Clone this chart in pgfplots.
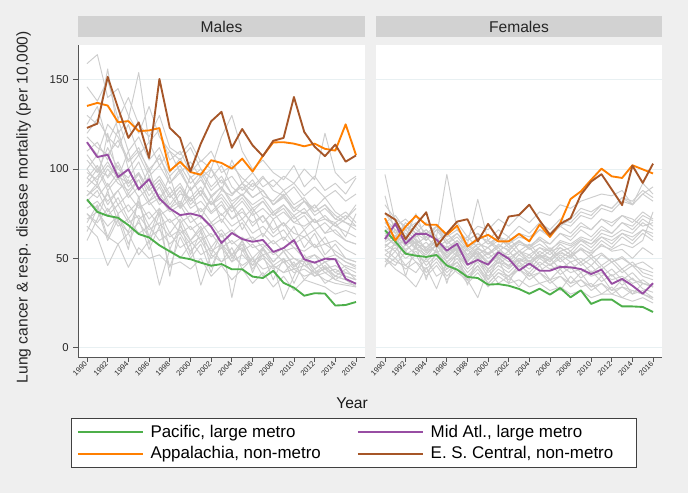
\documentclass[border=0pt]{standalone}
\usepackage{fontspec}
\setmainfont{Liberation Sans}
\usepackage{pgfplots}
\usepackage{pgfplotstable}
\pgfplotsset{compat=1.18}

\definecolor{bg}{RGB}{239,239,239}
\definecolor{hdr}{RGB}{210,210,210}
\definecolor{grd}{RGB}{232,240,242}
\definecolor{gl}{RGB}{205,205,205}
\definecolor{pac}{RGB}{77,175,74}
\definecolor{mid}{RGB}{152,78,163}
\definecolor{app}{RGB}{255,127,0}
\definecolor{esc}{RGB}{166,86,40}
\definecolor{axc}{RGB}{85,85,85}

% highlighted regions, males
\pgfplotstableread{
year pac mid app esc
1990 83.0 115.0 135.3 123.0
1991 76.0 106.7 137.0 125.4
1992 73.8 108.0 135.5 151.6
1993 72.7 95.5 126.2 134.2
1994 68.6 99.8 126.8 117.4
1995 63.6 88.7 121.2 126.1
1996 61.7 94.3 121.6 106.2
1997 57.3 83.5 122.9 150.4
1998 53.9 77.9 99.0 123.0
1999 50.6 74.2 104.0 117.4
2000 49.5 75.1 98.3 98.7
2001 47.6 73.6 96.8 114.2
2002 45.9 67.7 104.9 126.7
2003 46.8 58.6 103.4 132.0
2004 43.9 64.2 100.2 111.9
2005 43.9 60.8 105.8 122.4
2006 39.8 59.3 98.6 113.3
2007 39.0 60.3 107.3 107.2
2008 43.0 53.6 114.9 115.8
2009 36.3 55.8 115.0 117.4
2010 33.6 60.2 114.2 140.3
2011 29.1 49.4 112.7 120.7
2012 30.5 47.6 114.2 112.5
2013 30.3 49.8 111.3 107.2
2014 23.6 49.5 110.3 113.7
2015 23.9 38.5 125.0 104.1
2016 25.6 35.8 107.8 107.6
}\males

% highlighted regions, females
\pgfplotstableread{
year pac mid app esc
1990 65.7 60.8 72.5 75.3
1991 59.5 69.3 60.0 71.6
1992 52.6 58.2 67.8 60.8
1993 51.5 63.7 73.8 68.8
1994 50.8 63.7 68.8 75.8
1995 51.9 60.5 68.8 56.7
1996 46.0 54.3 63.2 64.0
1997 43.7 58.2 68.3 70.6
1998 39.6 46.5 56.7 71.9
1999 39.0 49.1 60.8 59.5
2000 35.3 46.5 63.2 69.3
2001 35.6 53.4 59.5 60.8
2002 34.7 49.8 59.5 73.4
2003 32.9 43.2 63.7 74.3
2004 30.2 47.1 59.5 80.0
2005 33.0 43.1 68.9 71.2
2006 29.7 43.1 62.0 63.2
2007 33.4 45.2 69.8 69.3
2008 28.2 45.0 83.2 72.5
2009 32.1 44.0 87.5 85.6
2010 24.5 41.2 94.0 93.0
2011 26.9 43.7 100.2 97.1
2012 26.9 35.7 95.9 88.5
2013 23.1 38.5 95.0 79.8
2014 23.1 34.7 102.1 101.9
2015 22.8 30.2 99.8 92.2
2016 20.0 36.1 97.5 103.0
}\females

% one grey background region, values 1990..2016
\newcommand\G[1]{\addplot[gl, line width=0.7pt, forget plot]
  table[header=false, x expr=\coordindex+1990, y index=0, row sep=\\]{#1};}

\pgfplotsset{
  panel/.style={
    scale only axis, height=234pt,
    xmin=1989.13, xmax=2016.87, ymin=-5.2, ymax=169.4,
    axis background/.style={fill=white},
    xtick={1990,1992,...,2016}, ytick={0,50,100,150},
    ymajorgrids, grid style={grd, line width=0.7pt},
    axis x line*=bottom, axis y line*=left,
    x axis line style={axc, line width=0.6pt, -},
    y axis line style={axc, line width=0.6pt, -},
    tick style={axc, line width=0.6pt},
    tick align=outside, major tick length=3.5pt,
    xticklabel style={rotate=45, anchor=east, font=\fontsize{5.6}{6}\selectfont, inner sep=1pt, text=black!85},
    yticklabel style={font=\fontsize{8.5}{10}\selectfont, text=black!85},
    /pgf/number format/1000 sep={},
    /pgf/number format/assume math mode=true,
    title style={at={(0.5,1)}, anchor=south, fill=hdr, minimum height=15.75pt,
      inner sep=0pt, outer sep=0pt, font=\fontsize{11.7}{13}\selectfont, text=black!85},
    every axis plot/.append style={line join=round},
  },
}

\begin{document}
\begin{tikzpicture}
\useasboundingbox (0,0) rectangle (516pt,369.75pt);
\fill[bg] (0,0) rectangle (516pt,369.75pt);

\begin{axis}[panel, width=215.25pt,
  at={(58.5pt,102pt)}, anchor=south west,
  title={Males}, title style={minimum width=215.25pt},
  ylabel={Lung cancer \& resp. disease mortality (per 10,000)},
  ylabel style={at={(axis description cs:-0.19,0.48)}, anchor=center, rotate=0,
    font=\fontsize{11.7}{13}\selectfont, text=black!85},
  xlabel={Year},
  xlabel style={at={(axis description cs:0.955,-0.147)}, anchor=center,
    font=\fontsize{11.7}{13}\selectfont, text=black!90},
  legend columns=2,
  legend cell align=left,
  legend style={at={(axis description cs:-0.0244,-0.1955)}, anchor=north west,
    draw=black!75, fill=white, line width=0.6pt,
    font=\fontsize{12.7}{14}\selectfont,
    inner xsep=4pt, inner ysep=3.5pt, row sep=2.5pt,
    nodes={inner ysep=1.5pt, inner xsep=3pt},
    /tikz/every odd column/.append style={column sep=2pt},
    /tikz/every even column/.append style={column sep=24pt}},
  legend image code/.code={\draw[#1, line width=1.6pt] (0pt,0pt) -- (48.75pt,0pt);},
]
\G{159\\164\\140\\145\\130\\120\\135\\118\\110\\105\\112\\100\\95\\102\\90\\85\\92\\88\\80\\84\\78\\75\\80\\72\\70\\74\\68\\}
\G{146\\138\\150\\128\\140\\125\\118\\130\\112\\108\\115\\104\\110\\98\\102\\95\\90\\96\\88\\85\\90\\82\\78\\84\\76\\72\\78\\}
\G{130\\125\\156\\120\\128\\154\\115\\122\\105\\110\\98\\105\\100\\92\\96\\88\\94\\85\\82\\88\\80\\84\\76\\80\\72\\70\\66\\}
\G{120\\128\\118\\112\\125\\108\\115\\102\\110\\98\\104\\95\\100\\118\\130\\110\\100\\105\\98\\94\\102\\90\\96\\88\\92\\86\\95\\}
\G{110\\115\\105\\122\\100\\108\\96\\102\\92\\98\\88\\94\\85\\90\\82\\86\\80\\84\\76\\80\\74\\78\\70\\72\\68\\65\\62\\}
\G{105\\98\\112\\100\\95\\104\\90\\96\\86\\92\\82\\88\\80\\84\\76\\82\\74\\78\\72\\76\\70\\68\\72\\64\\66\\60\\58\\}
\G{100\\108\\95\\102\\90\\97\\85\\92\\80\\88\\78\\82\\75\\80\\72\\76\\70\\74\\66\\70\\64\\62\\66\\58\\60\\55\\52\\}
\G{95\\90\\100\\92\\88\\94\\82\\86\\78\\82\\74\\78\\70\\75\\68\\72\\64\\68\\62\\66\\58\\62\\56\\58\\54\\50\\48\\}
\G{92\\100\\88\\95\\84\\90\\80\\84\\76\\80\\70\\74\\68\\72\\64\\70\\60\\64\\58\\62\\56\\54\\58\\50\\52\\48\\45\\}
\G{88\\84\\92\\80\\86\\78\\82\\74\\78\\70\\74\\66\\70\\62\\66\\60\\62\\56\\60\\54\\56\\50\\52\\48\\50\\45\\42\\}
\G{85\\92\\80\\88\\76\\82\\72\\78\\70\\74\\66\\70\\62\\66\\58\\62\\56\\58\\52\\56\\50\\48\\52\\44\\46\\42\\40\\}
\G{82\\78\\86\\75\\80\\72\\76\\68\\72\\64\\68\\60\\64\\56\\60\\54\\58\\52\\54\\48\\50\\46\\48\\42\\44\\40\\38\\}
\G{78\\82\\74\\80\\70\\74\\66\\70\\62\\66\\58\\62\\54\\58\\52\\56\\48\\52\\46\\50\\44\\46\\42\\44\\40\\38\\36\\}
\G{75\\70\\78\\68\\72\\64\\68\\60\\64\\56\\60\\52\\56\\48\\52\\46\\50\\44\\46\\42\\44\\40\\42\\38\\36\\35\\34\\}
\G{70\\80\\62\\75\\58\\72\\55\\68\\45\\62\\50\\58\\42\\60\\28\\55\\44\\52\\38\\50\\36\\48\\40\\45\\38\\42\\40\\}
\G{65\\78\\60\\72\\55\\85\\58\\75\\40\\70\\52\\65\\45\\58\\48\\60\\42\\55\\46\\27\\40\\52\\44\\48\\42\\46\\44\\}
\G{60\\72\\88\\70\\65\\82\\62\\78\\55\\68\\60\\66\\52\\64\\50\\58\\46\\56\\48\\54\\45\\50\\42\\46\\40\\44\\38\\}
\G{100\\92\\120\\95\\110\\88\\100\\82\\96\\78\\90\\72\\85\\70\\80\\66\\76\\62\\72\\60\\68\\56\\64\\52\\58\\50\\48\\}
\G{115\\108\\125\\118\\105\\112\\98\\108\\92\\100\\88\\96\\84\\90\\80\\86\\78\\82\\74\\78\\70\\74\\66\\70\\64\\60\\58\\}
\G{125\\135\\115\\128\\110\\118\\105\\112\\98\\106\\95\\100\\90\\96\\86\\92\\84\\88\\80\\85\\76\\82\\74\\78\\72\\76\\70\\}
\G{90\\96\\104\\94\\100\\88\\96\\84\\90\\80\\96\\85\\100\\88\\105\\92\\98\\90\\94\\88\\92\\85\\90\\84\\88\\82\\86\\}
\G{95\\102\\90\\98\\86\\94\\82\\90\\78\\86\\84\\90\\80\\88\\85\\92\\88\\95\\90\\96\\92\\100\\94\\120\\98\\92\\96\\}
\G{85\\90\\82\\88\\94\\84\\90\\80\\86\\78\\84\\76\\82\\74\\80\\72\\78\\70\\76\\68\\74\\66\\72\\64\\70\\62\\75\\}
\G{108\\100\\96\\104\\92\\98\\88\\94\\84\\90\\80\\86\\76\\82\\72\\78\\68\\74\\64\\70\\60\\66\\56\\62\\52\\48\\46\\}
\G{72\\76\\68\\74\\64\\70\\62\\66\\58\\64\\54\\60\\50\\56\\48\\52\\46\\50\\44\\48\\42\\44\\40\\42\\38\\36\\35\\}
\G{98\\94\\102\\96\\92\\98\\88\\94\\84\\90\\82\\88\\80\\86\\78\\84\\76\\82\\74\\80\\72\\76\\70\\74\\68\\72\\80\\}
\G{118\\112\\108\\116\\104\\110\\100\\106\\96\\102\\92\\98\\88\\94\\86\\90\\84\\88\\80\\86\\78\\82\\76\\80\\74\\70\\68\\}
\G{82\\88\\76\\84\\72\\80\\68\\76\\64\\72\\60\\68\\56\\64\\52\\60\\50\\56\\48\\54\\46\\50\\44\\48\\42\\40\\38\\}
\G{75\\68\\62\\58\\64\\52\\60\\35\\55\\50\\58\\35\\52\\48\\56\\44\\50\\40\\46\\42\\48\\38\\44\\36\\40\\38\\34\\}
\G{68\\62\\46\\58\\45\\56\\50\\52\\46\\48\\44\\50\\40\\46\\38\\44\\36\\42\\34\\40\\32\\38\\36\\34\\30\\32\\30\\}
\addplot[pac, line width=1.4pt] table[x=year, y=pac] {\males};
\addplot[mid, line width=1.4pt] table[x=year, y=mid] {\males};
\addplot[app, line width=1.4pt] table[x=year, y=app] {\males};
\addplot[esc, line width=1.4pt] table[x=year, y=esc] {\males};
\legend{{Pacific, large metro}, {Mid Atl., large metro}, {Appalachia, non-metro}, {E. S. Central, non-metro\hspace*{10pt}}}
\end{axis}

\begin{axis}[panel, width=214.5pt,
  at={(282pt,102pt)}, anchor=south west,
  title={Females}, title style={minimum width=214.5pt},
  yticklabels={}, y axis line style={draw=none}, ytick style={draw=none},
]
\G{97\\70\\62\\75\\60\\68\\58\\62\\55\\60\\52\\56\\50\\54\\48\\52\\46\\50\\44\\48\\42\\46\\40\\44\\38\\36\\34\\}
\G{80\\72\\68\\64\\70\\62\\97\\66\\60\\64\\58\\62\\56\\60\\55\\58\\54\\56\\52\\55\\50\\53\\48\\51\\46\\44\\42\\}
\G{75\\68\\72\\66\\62\\68\\60\\64\\58\\83\\60\\56\\62\\54\\58\\52\\56\\50\\54\\48\\52\\46\\50\\44\\48\\42\\40\\}
\G{70\\74\\66\\70\\64\\68\\62\\66\\60\\64\\58\\62\\60\\64\\62\\66\\64\\70\\68\\74\\72\\78\\76\\82\\80\\86\\90\\}
\G{68\\62\\70\\64\\60\\66\\58\\64\\56\\62\\60\\66\\62\\68\\64\\70\\66\\72\\70\\76\\74\\80\\78\\84\\82\\88\\84\\}
\G{65\\70\\62\\68\\60\\66\\64\\70\\62\\68\\66\\72\\68\\74\\70\\76\\74\\80\\78\\82\\84\\86\\85\\88\\80\\92\\86\\}
\G{62\\58\\66\\60\\56\\62\\54\\60\\52\\58\\56\\62\\58\\64\\60\\66\\62\\68\\64\\70\\66\\72\\68\\74\\70\\76\\72\\}
\G{60\\66\\58\\64\\54\\60\\50\\58\\48\\56\\52\\58\\54\\60\\56\\62\\58\\64\\60\\66\\62\\68\\64\\70\\66\\72\\68\\}
\G{58\\54\\62\\56\\52\\58\\50\\56\\48\\54\\46\\52\\48\\54\\50\\56\\52\\58\\54\\60\\56\\62\\58\\64\\60\\66\\62\\}
\G{56\\62\\54\\60\\50\\58\\48\\54\\46\\52\\44\\50\\46\\52\\48\\54\\50\\56\\52\\58\\54\\60\\56\\62\\58\\64\\60\\}
\G{55\\50\\58\\52\\48\\54\\46\\52\\44\\50\\42\\48\\44\\50\\46\\52\\48\\54\\50\\56\\52\\58\\54\\55\\50\\56\\52\\}
\G{52\\56\\50\\54\\46\\52\\44\\50\\42\\48\\40\\46\\42\\48\\44\\50\\46\\52\\48\\50\\46\\52\\48\\50\\46\\48\\44\\}
\G{50\\46\\54\\48\\44\\50\\42\\48\\40\\46\\38\\44\\40\\46\\42\\48\\44\\46\\42\\44\\40\\42\\38\\40\\36\\38\\34\\}
\G{48\\54\\46\\52\\42\\48\\40\\46\\38\\44\\36\\42\\38\\44\\40\\42\\38\\40\\36\\38\\34\\36\\32\\34\\30\\32\\28\\}
\G{46\\50\\44\\48\\40\\46\\38\\44\\36\\42\\34\\40\\36\\38\\34\\36\\32\\34\\30\\32\\28\\30\\30\\28\\26\\28\\25\\}
\G{45\\60\\40\\58\\38\\56\\36\\54\\35\\52\\38\\50\\36\\48\\40\\46\\38\\44\\36\\42\\34\\40\\32\\38\\30\\36\\34\\}
\G{72\\66\\64\\58\\62\\56\\60\\54\\58\\52\\56\\50\\54\\48\\52\\46\\50\\44\\48\\42\\46\\40\\44\\38\\42\\36\\35\\}
\G{64\\60\\62\\58\\56\\60\\54\\58\\52\\56\\50\\54\\52\\58\\56\\60\\58\\64\\62\\68\\66\\72\\70\\74\\72\\68\\70\\}
\G{66\\62\\58\\62\\66\\60\\56\\60\\54\\58\\56\\60\\58\\62\\60\\66\\64\\68\\72\\78\\76\\80\\78\\84\\80\\86\\82\\}
\G{59\\63\\57\\61\\55\\59\\53\\57\\51\\55\\53\\57\\55\\59\\57\\61\\55\\59\\57\\61\\58\\62\\60\\64\\62\\66\\64\\}
\G{63\\57\\61\\55\\59\\53\\57\\51\\55\\49\\53\\47\\51\\45\\49\\43\\47\\41\\45\\39\\43\\37\\41\\35\\39\\33\\31\\}
\G{57\\61\\55\\59\\53\\57\\51\\55\\49\\53\\47\\51\\45\\49\\47\\51\\49\\53\\51\\55\\53\\57\\55\\58\\56\\60\\76\\}
\G{70\\64\\68\\62\\66\\60\\64\\58\\62\\56\\60\\54\\58\\52\\56\\50\\54\\48\\52\\46\\50\\44\\48\\42\\46\\40\\38\\}
\G{54\\58\\52\\56\\50\\54\\48\\52\\46\\50\\44\\48\\46\\50\\48\\52\\50\\54\\56\\60\\58\\64\\62\\66\\64\\70\\66\\}
\G{50\\44\\40\\34\\45\\33\\48\\42\\38\\28\\44\\36\\40\\34\\42\\36\\38\\32\\40\\34\\36\\30\\34\\28\\32\\30\\27\\}
\G{85\\64\\60\\58\\54\\57\\52\\56\\50\\54\\48\\52\\50\\54\\52\\56\\54\\60\\58\\62\\60\\66\\64\\70\\68\\74\\71\\}
\G{52\\48\\46\\42\\50\\40\\44\\48\\38\\46\\36\\42\\40\\44\\38\\42\\36\\40\\34\\38\\32\\36\\30\\34\\32\\30\\28\\}
\addplot[pac, line width=1.4pt] table[x=year, y=pac] {\females};
\addplot[mid, line width=1.4pt] table[x=year, y=mid] {\females};
\addplot[app, line width=1.4pt] table[x=year, y=app] {\females};
\addplot[esc, line width=1.4pt] table[x=year, y=esc] {\females};
\end{axis}
\end{tikzpicture}
\end{document}
